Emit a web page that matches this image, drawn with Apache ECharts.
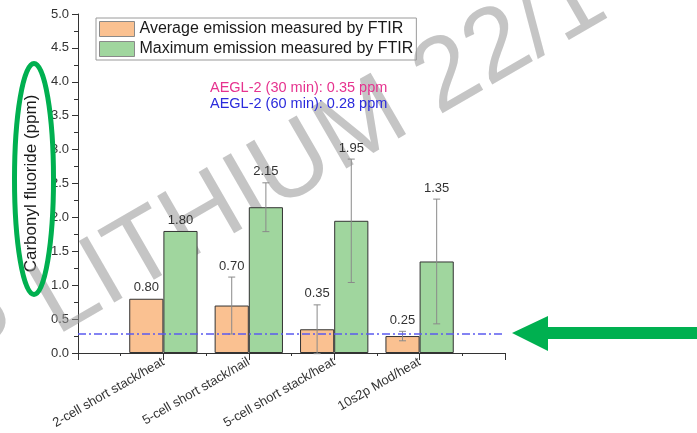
<!DOCTYPE html>
<html>
<head>
<meta charset="utf-8">
<script src="https://cdn.jsdelivr.net/npm/echarts@6/dist/echarts.min.js"></script>
<style>
  html, body { margin: 0; padding: 0; background: #fff; }
  #chart { width: 697px; height: 433px; }
</style>
</head>
<body>
<div id="chart"></div>
<script>
// Test configurations on the x axis (placed at 1..4 on a 0..5 scale)
const categories = [
  '2-cell short stack/heat',
  '5-cell short stack/nail',
  '5-cell short stack/heat',
  '10s2p Mod/heat'
];
const seriesNames = [
  'Average emission measured by FTIR',
  'Maximum emission measured by FTIR'
];
// Carbonyl fluoride concentrations (ppm) and their ± spreads
const avgValues = [0.80, 0.70, 0.35, 0.25];
const avgErrors = [0, 0.42, 0.36, 0.07];
const maxValues = [1.80, 2.15, 1.95, 1.35];
const maxErrors = [0, 0.36, 0.91, 0.92];
// AEGL-2 exposure guideline levels (ppm)
const aegl30 = 0.35;
const aegl60 = 0.28;

const FONT = '"Liberation Sans", Arial, sans-serif';
const BAR_SHARE = 0.4;          // each bar takes 40% of a category slot
const HALF = BAR_SHARE / 2;     // bar centre offset from the category position
const ORANGE = '#fac191';
const GREEN = '#a0d69e';

const chart = echarts.init(document.getElementById('chart'));

function errorSeries(values, errors, side) {
  return {
    type: 'custom',
    z: 3,
    silent: true,
    data: values.map((v, i) => [i + 1 + side * HALF, v, errors[i]]),
    encode: { x: 0, y: 1 },
    renderItem(params, api) {
      const x = api.value(0);
      const v = api.value(1);
      const e = api.value(2);
      const children = [];
      let topVal = v;
      if (e > 0) {
        const hi = api.coord([x, v + e]);
        const lo = api.coord([x, v - e]);
        const cap = 3.5;
        const st = { stroke: '#8a8a8a', lineWidth: 1 };
        children.push({ type: 'line', shape: { x1: hi[0], y1: hi[1], x2: lo[0], y2: lo[1] }, style: st });
        children.push({ type: 'line', shape: { x1: hi[0] - cap, y1: hi[1], x2: hi[0] + cap, y2: hi[1] }, style: st });
        children.push({ type: 'line', shape: { x1: lo[0] - cap, y1: lo[1], x2: lo[0] + cap, y2: lo[1] }, style: st });
        topVal = v + e;
      }
      const p = api.coord([x, topVal]);
      children.push({
        type: 'text',
        x: p[0],
        y: p[1] - 4.5,
        style: {
          text: v.toFixed(2),
          fill: '#333',
          font: '13px ' + FONT,
          align: 'center',
          verticalAlign: 'bottom'
        }
      });
      return { type: 'group', children };
    }
  };
}

const option = {
  animation: false,
  textStyle: { fontFamily: FONT },
  grid: { left: 78, top: 14, width: 427, height: 339 },
  legend: {
    data: seriesNames,
    orient: 'vertical',
    left: 96,
    top: 18,
    padding: [3, 3, 3, 3],
    itemGap: 4,
    itemWidth: 35,
    itemHeight: 15,
    icon: 'rect',
    borderColor: '#9a9a9a',
    borderWidth: 1,
    itemStyle: { borderColor: '#8a8a8a', borderWidth: 1 },
    textStyle: { fontSize: 16, color: '#1a1a1a', fontFamily: FONT }
  },
  xAxis: {
    type: 'value',
    min: 0,
    max: 5,
    interval: 1,
    splitLine: { show: false },
    axisLine: { show: true, lineStyle: { color: '#333', width: 1 } },
    axisTick: { show: true, length: 7, lineStyle: { color: '#333' } },
    minorTick: { show: true, splitNumber: 2, length: 3, lineStyle: { color: '#333' } },
    axisLabel: {
      rotate: 30,
      margin: 8,
      fontSize: 13,
      color: '#333',
      formatter: (v) => categories[v - 1] || ''
    }
  },
  yAxis: {
    type: 'value',
    min: 0,
    max: 5,
    interval: 0.5,
    name: 'Carbonyl fluoride (ppm)',
    nameLocation: 'middle',
    nameGap: 36,
    nameTextStyle: { fontSize: 17, color: '#1a1a1a' },
    splitLine: { show: false },
    axisLine: { show: true, lineStyle: { color: '#333', width: 1 } },
    axisTick: { show: true, length: 6, lineStyle: { color: '#333' } },
    minorTick: { show: true, splitNumber: 2, length: 4, lineStyle: { color: '#333' } },
    axisLabel: {
      margin: 9,
      fontSize: 13,
      color: '#333',
      formatter: (v) => v.toFixed(1)
    }
  },
  series: [
    {
      name: seriesNames[0],
      type: 'bar',
      barWidth: (BAR_SHARE * 100) + '%',
      barGap: '0%',
      data: avgValues.map((v, i) => [i + 1, v]),
      itemStyle: { color: ORANGE, borderColor: '#333', borderWidth: 1 },
      markLine: {
        silent: true,
        symbol: 'none',
        label: { show: false },
        lineStyle: { color: '#5b5bef', type: [8, 3, 2, 3], width: 1.5 },
        data: [{ yAxis: aegl60 }]
      }
    },
    {
      name: seriesNames[1],
      type: 'bar',
      barWidth: (BAR_SHARE * 100) + '%',
      barGap: '0%',
      data: maxValues.map((v, i) => [i + 1, v]),
      itemStyle: { color: GREEN, borderColor: '#333', borderWidth: 1 }
    },
    errorSeries(avgValues, avgErrors, -1),
    errorSeries(maxValues, maxErrors, 1)
  ],
  graphic: [
    {
      type: 'text',
      z: 1,
      silent: true,
      x: -42,
      y: 360,
      rotation: Math.PI / 6,
      style: {
        text: 'P LITHIUM 22/1',
        font: '103px ' + FONT,
        fill: 'rgba(150,150,150,0.55)',
        align: 'left',
        verticalAlign: 'middle'
      }
    },
    {
      type: 'text',
      z: 50,
      x: 210,
      y: 88,
      style: {
        text: 'AEGL-2 (30 min): ' + aegl30.toFixed(2) + ' ppm',
        font: '14.5px ' + FONT,
        fill: '#e6338f',
        verticalAlign: 'middle'
      }
    },
    {
      type: 'text',
      z: 50,
      x: 210,
      y: 104,
      style: {
        text: 'AEGL-2 (60 min): ' + aegl60.toFixed(2) + ' ppm',
        font: '14.5px ' + FONT,
        fill: '#2b2bdc',
        verticalAlign: 'middle'
      }
    },
    {
      type: 'ellipse',
      z: 100,
      shape: { cx: 34, cy: 179, rx: 19.5, ry: 115.5 },
      style: { fill: null, stroke: '#00b050', lineWidth: 5 }
    },
    {
      type: 'polygon',
      z: 100,
      shape: {
        points: [[512, 333], [548, 316], [548, 327], [697, 327], [697, 339], [548, 339], [548, 351]]
      },
      style: { fill: '#00b050' }
    }
  ]
};

chart.setOption(option);
</script>
</body>
</html>
